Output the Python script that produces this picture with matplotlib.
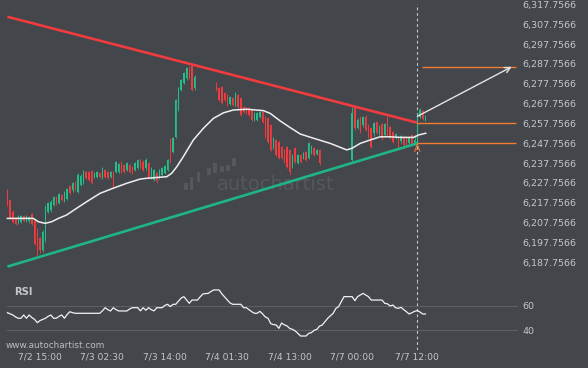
import numpy as np
import matplotlib
matplotlib.use('Agg')
import matplotlib.pyplot as plt
from matplotlib.ticker import FuncFormatter
from matplotlib.patches import Rectangle

nan = np.nan

# candles (30 min), index 0 = first bar; nan = no data
opens = [
    6224.2, 6219.2, 6213.1, 6210.1, 6207.6, 6208.1, 6211.1, 6208.6, 6208.6, 6212.1,
    6208.6, 6204.0, 6200.0, 6194.0, 6199.0, 6213.1, 6214.1, 6216.7, 6220.7, 6217.7,
    6221.7, 6218.7, 6219.7, 6226.2, 6224.2, 6228.2, 6223.2, 6226.7, 6227.7, 6233.3,
    6233.3, 6233.8, 6230.8, 6230.8, 6232.8, 6230.3, 6234.3, 6233.3, 6230.8, 6233.3,
    6233.3, 6233.3, 6238.3, 6236.8, 6234.3, 6236.8, 6235.8, 6234.3, 6235.3, 6239.3,
    6238.3, 6235.3, 6237.8, 6230.3, 6229.2, 6232.8, 6230.3, 6231.8, 6232.8, 6234.3,
    6249.4, 6243.4, 6250.9, 6264.5, 6274.6, 6278.1, 6280.6, 6284.7, 6286.7, 6275.6,
    nan, nan, nan, nan, nan, nan, nan, 6278.1, 6275.6, 6276.1,
    6273.1, 6272.1, 6267.5, 6270.6, 6267.0, 6272.1, 6270.6, 6266.0, 6265.5, 6265.5,
    6264.5, 6259.5, 6259.5, 6261.0, 6263.5, 6261.0, 6260.5, 6257.0, 6245.4, 6249.4,
    6248.4, 6245.9, 6244.4, 6245.9, 6244.4, 6235.8, 6245.4, 6237.8, 6241.9, 6240.3,
    6243.4, 6240.3, 6242.9, 6245.4, 6242.4, 6244.4, nan, nan, nan, nan,
    nan, nan, nan, nan, nan, nan, nan, 6239.3, 6265.5, 6255.4,
    6260.5, 6257.0, 6261.0, 6257.0, 6255.4, 6252.9, 6258.5, 6252.9, 6257.5, 6251.9,
    6261.0, 6255.9, 6253.4, 6250.4, 6250.9, 6248.9, 6250.9, 6250.9, 6247.9, 6251.9,
    6247.4, 6247.9, 6261.0, 6264.0, 6259.5,
]
closes = [
    6217.2, 6210.1, 6208.1, 6207.1, 6211.1, 6211.1, 6208.6, 6211.1, 6210.6, 6207.1,
    6197.0, 6193.0, 6194.0, 6203.0, 6215.6, 6217.7, 6218.2, 6220.7, 6217.2, 6222.2,
    6219.2, 6223.2, 6224.7, 6222.7, 6227.7, 6224.2, 6231.8, 6231.3, 6233.8, 6230.3,
    6229.2, 6227.7, 6232.8, 6233.3, 6230.8, 6235.3, 6230.8, 6230.3, 6233.3, 6225.7,
    6238.3, 6237.3, 6233.3, 6233.3, 6237.8, 6233.3, 6232.8, 6237.8, 6239.3, 6235.8,
    6234.3, 6239.3, 6230.3, 6235.3, 6234.3, 6228.7, 6234.3, 6235.3, 6236.3, 6239.3,
    6238.3, 6250.4, 6269.6, 6275.6, 6279.6, 6283.2, 6285.7, 6280.6, 6274.6, 6281.1,
    nan, nan, nan, nan, nan, nan, nan, 6274.6, 6269.6, 6268.0,
    6269.6, 6267.0, 6271.1, 6267.0, 6273.1, 6266.0, 6262.0, 6263.5, 6263.0, 6262.0,
    6259.5, 6263.0, 6263.0, 6263.5, 6258.5, 6250.9, 6248.4, 6244.4, 6250.4, 6241.9,
    6240.3, 6240.3, 6238.3, 6235.8, 6233.3, 6241.9, 6238.3, 6241.9, 6238.3, 6242.9,
    6239.3, 6247.9, 6245.9, 6241.9, 6244.4, 6237.8, nan, nan, nan, nan,
    nan, nan, nan, nan, nan, nan, nan, 6263.0, 6255.4, 6259.5,
    6253.4, 6261.0, 6254.4, 6250.9, 6245.9, 6258.0, 6252.9, 6256.4, 6250.4, 6257.5,
    6251.9, 6250.4, 6248.4, 6252.4, 6245.9, 6251.4, 6246.9, 6246.9, 6250.9, 6246.9,
    6249.4, 6262.0, 6264.5, 6260.0, 6261.5,
]
highs = [
    6224.7, 6219.7, 6214.1, 6210.6, 6211.6, 6211.6, 6211.6, 6211.6, 6211.1, 6212.6,
    6209.1, 6205.1, 6200.5, 6204.0, 6216.7, 6218.2, 6219.2, 6221.2, 6221.2, 6222.7,
    6222.2, 6223.7, 6225.2, 6226.7, 6228.2, 6228.7, 6232.8, 6232.3, 6234.3, 6233.8,
    6233.8, 6234.3, 6233.3, 6233.8, 6233.3, 6235.8, 6234.8, 6233.8, 6233.8, 6233.8,
    6238.8, 6237.8, 6238.8, 6237.3, 6238.3, 6237.3, 6236.3, 6238.3, 6239.8, 6239.8,
    6239.3, 6240.3, 6238.3, 6235.8, 6234.8, 6233.3, 6234.8, 6235.8, 6236.8, 6239.8,
    6250.4, 6250.9, 6270.1, 6276.1, 6280.1, 6283.7, 6286.2, 6286.7, 6288.2, 6282.2,
    nan, nan, nan, nan, nan, nan, nan, 6278.6, 6276.1, 6276.6,
    6273.6, 6272.6, 6271.6, 6271.1, 6273.6, 6272.6, 6271.1, 6266.5, 6266.0, 6266.0,
    6265.0, 6263.5, 6263.5, 6264.0, 6264.0, 6261.5, 6261.0, 6257.5, 6250.9, 6249.9,
    6248.9, 6246.4, 6244.9, 6246.4, 6244.9, 6242.4, 6245.9, 6242.4, 6242.4, 6243.4,
    6243.9, 6248.4, 6246.9, 6245.9, 6244.9, 6244.9, nan, nan, nan, nan,
    nan, nan, nan, nan, nan, nan, nan, 6266.0, 6266.0, 6260.5,
    6261.5, 6261.5, 6262.0, 6257.5, 6255.9, 6258.5, 6259.0, 6257.0, 6258.0, 6258.0,
    6261.5, 6256.4, 6253.9, 6252.9, 6251.4, 6251.9, 6251.4, 6251.4, 6251.4, 6252.4,
    6251.9, 6262.5, 6265.5, 6264.5, 6262.0,
]
lows = [
    6216.2, 6209.6, 6207.6, 6206.6, 6207.1, 6207.6, 6208.1, 6208.1, 6207.6, 6206.6,
    6196.5, 6190.4, 6192.5, 6193.0, 6198.0, 6212.6, 6213.1, 6216.2, 6216.7, 6217.2,
    6218.7, 6218.2, 6219.2, 6222.2, 6223.2, 6223.7, 6222.7, 6226.2, 6227.2, 6229.8,
    6228.7, 6227.2, 6230.3, 6230.3, 6230.3, 6229.8, 6230.3, 6229.8, 6230.3, 6225.2,
    6232.8, 6232.8, 6232.8, 6232.8, 6233.8, 6232.8, 6232.3, 6233.8, 6234.8, 6235.3,
    6233.8, 6234.3, 6229.8, 6229.8, 6228.7, 6227.7, 6229.8, 6231.3, 6232.3, 6233.8,
    6237.8, 6242.9, 6250.4, 6264.0, 6274.1, 6277.6, 6279.6, 6280.1, 6274.1, 6274.6,
    nan, nan, nan, nan, nan, nan, nan, 6274.1, 6269.1, 6267.5,
    6269.1, 6266.5, 6267.0, 6266.5, 6266.5, 6265.5, 6261.5, 6263.0, 6262.5, 6261.5,
    6259.0, 6259.0, 6259.0, 6260.5, 6258.0, 6250.4, 6247.9, 6243.9, 6244.9, 6241.4,
    6239.8, 6239.8, 6237.8, 6235.3, 6231.8, 6235.3, 6237.8, 6237.3, 6237.8, 6239.8,
    6238.8, 6239.8, 6242.4, 6241.4, 6241.9, 6236.8, nan, nan, nan, nan,
    nan, nan, nan, nan, nan, nan, nan, 6238.8, 6254.4, 6254.9,
    6252.9, 6255.9, 6253.9, 6250.4, 6245.4, 6251.4, 6252.4, 6251.9, 6249.4, 6251.4,
    6251.4, 6249.9, 6247.9, 6249.9, 6245.4, 6247.9, 6245.4, 6246.4, 6247.4, 6246.4,
    6246.9, 6247.4, 6260.5, 6259.5, 6259.0,
]

# moving average, read at these bar positions
ma_idx = [0, 9.5, 11.4, 13.9, 16.3, 18.8, 21.8, 25.5, 29.2, 34.1, 39.0, 44.0, 48.9,
          51.3, 58.7, 60.5, 62.4, 64.8, 68.5, 72.2, 75.9, 79.6, 83.2, 88.2, 94.3,
          96.8, 100.5, 104.1, 107.9, 112.7, 118.9, 125.0, 126.9, 130.0, 133.6,
          137.3, 141.0, 144.7, 149.6, 151.4, 154.1]
ma_val = [6209.9, 6209.9, 6208.2, 6207.4, 6208.2, 6209.9, 6211.6, 6215.0, 6218.3,
          6222.5, 6225.1, 6227.6, 6229.7, 6230.1, 6230.9, 6232.6, 6235.9, 6241.0,
          6249.4, 6255.3, 6260.3, 6263.1, 6264.5, 6264.9, 6264.2, 6262.8, 6259.0,
          6255.7, 6252.4, 6250.3, 6247.7, 6244.4, 6245.2, 6247.7, 6249.4, 6251.0,
          6251.0, 6250.7, 6250.7, 6251.9, 6252.8]

rsi = [
    54.5, 53.5, 52.6, 51.0, 49.9, 49.9, 52.6, 49.9, 52.6, 50.5,
    49.0, 46.3, 48.0, 49.0, 49.9, 51.5, 52.6, 49.9, 49.9, 51.5,
    52.6, 49.9, 53.0, 55.3, 54.5, 54.0, 54.0, 54.0, 54.0, 54.0,
    54.0, 54.0, 54.0, 54.0, 54.0, 56.0, 58.6, 57.0, 55.9, 58.6,
    57.0, 55.9, 55.9, 55.9, 55.9, 57.5, 58.6, 58.6, 58.6, 56.0,
    58.6, 56.5, 58.6, 57.0, 56.0, 58.6, 58.6, 58.6, 60.5, 61.4,
    59.5, 61.4, 61.4, 64.0, 66.5, 67.7, 65.0, 62.2, 64.9, 64.9,
    64.9, 67.5, 69.9, 70.2, 70.4, 72.0, 73.2, 73.2, 73.2, 70.0,
    67.5, 65.0, 62.5, 61.4, 61.4, 61.4, 61.4, 58.6, 58.6, 57.0,
    55.3, 54.0, 54.0, 55.6, 53.5, 51.0, 49.9, 45.5, 44.7, 44.4,
    41.6, 46.0, 44.5, 43.6, 41.5, 40.8, 39.5, 37.5, 35.3, 35.3,
    35.3, 37.5, 38.1, 40.0, 40.8, 43.5, 44.4, 47.1, 49.9, 52.0,
    54.0, 58.0, 59.5, 63.6, 67.7, 67.7, 67.7, 67.7, 64.4, 67.7,
    69.0, 70.4, 69.0, 67.7, 64.9, 64.9, 64.9, 64.9, 64.9, 62.2,
    61.8, 60.0, 60.8, 58.5, 58.1, 58.9, 57.0, 55.3, 53.4, 54.5,
    55.6, 56.2, 55.0, 53.4, 53.4,
]

# triangle lines (start bar, end bar) and levels
resist_x, resist_y = [0, 151], [6311.5, 6258.1]
support_x, support_y = [0, 151], [6185.6, 6247.7]
breakout_bar = 151
breakout_level = 6258.1
support_level = 6247.7
target_level = 6286.3
arrow_start, arrow_end = (151, 6261.3), (185.8, 6286.3)

tick_idx = [12, 35, 58, 81, 104, 127, 151]
tick_lbl = ['7/2 15:00', '7/3 02:30', '7/3 14:00', '7/4 01:30', '7/4 13:00',
            '7/7 00:00', '7/7 12:00']
price_ticks = [6187.7566 + 10 * k for k in range(14)]

bg = '#43464b'
txt = '#c3c6ca'
up = '#22bf8a'
down = '#f03c3f'
orange = '#f57b32'

fig = plt.figure(figsize=(5.88, 3.68), dpi=100, facecolor=bg)
ax = fig.add_axes([0, 0.2337, 0.881, 0.7663], facecolor=bg)
rax = fig.add_axes([0, 0.0489, 0.881, 0.1848], facecolor=bg)

o = np.array(opens); c = np.array(closes)
h = np.array(highs); l = np.array(lows)
idx = np.arange(len(o))
cols = np.where(c >= o, up, down)
ax.vlines(idx, l, h, colors=cols, lw=0.6, zorder=2)
body = np.maximum(np.abs(c - o), 0.5)
ax.bar(idx, body, bottom=np.fmin(o, c), width=0.5, color=cols, lw=0, zorder=2)

ax.plot(ma_idx, ma_val, color='#eeeeee', lw=1.1, zorder=3)
ax.plot(resist_x, resist_y, color='#f03c3f', lw=1.9, zorder=4, solid_capstyle='butt')
ax.plot(support_x, support_y, color='#1fb584', lw=1.9, zorder=4, solid_capstyle='butt')

ax.hlines([breakout_level, support_level], breakout_bar, 187.3, color=orange, lw=1.0, zorder=4)
ax.hlines(target_level, 152.9, 187.3, color=orange, lw=1.0, zorder=4)
ax.annotate('', xy=arrow_end, xytext=arrow_start,
            arrowprops=dict(arrowstyle='->', color='#e4e4e4', lw=1.0,
                            shrinkA=0, shrinkB=0, mutation_scale=10), zorder=5)
ax.text(breakout_bar, support_level - 2.6, 'A', color=orange, fontsize=7,
        ha='center', va='center', zorder=5)

ax.axvline(breakout_bar, ymax=1 - 4 / 282, color='#c8c8c8', lw=0.8,
           ls=(0, (2.5, 2.5)), zorder=1)
rax.axvline(breakout_bar, color='#c8c8c8', lw=0.8, ls=(0, (2.5, 2.5)), zorder=1)

# watermark
ax.text(217 / 518, 1 - 190 / 282, 'autochartist', transform=ax.transAxes,
        color='#54575c', fontsize=14, va='baseline', ha='left', zorder=0)
logo = [(184, 183, 188, 190), (190, 177, 193, 190), (197, 172, 200, 182),
        (207, 168, 211, 175), (213, 163, 217, 173), (220, 166, 224, 172),
        (226, 165, 230, 171), (232, 158, 236, 166)]
for x0, y0, x1, y1 in logo:
    ax.add_patch(Rectangle((x0 / 518, 1 - y1 / 282), (x1 - x0) / 518, (y1 - y0) / 282,
                           transform=ax.transAxes, color='#54575c', lw=0, zorder=0))

ax.set_xlim(-2.73, 188.1)
ax.set_ylim(6177.84, 6319.94)
ax.set_xticks([])
ax.yaxis.tick_right()
ax.set_yticks(price_ticks)
ax.yaxis.set_major_formatter(FuncFormatter(lambda v, p: f'{v:,.4f}'))
ax.tick_params(axis='y', length=0, pad=2.9, labelsize=6.8, colors=txt)
for s in ax.spines.values():
    s.set_visible(False)

# RSI panel
rax.plot(idx, rsi, color='#f2f2f2', lw=0.9, zorder=3)
for lvl in (40, 60):
    rax.axhline(lvl, xmin=7 / 518, color='#5c6065', lw=0.8, zorder=1)
rax.set_xlim(-2.73, 188.1)
rax.set_ylim(23.79, 79.75)
rax.yaxis.tick_right()
rax.set_yticks([40, 60])
rax.tick_params(axis='y', length=0, pad=2.9, labelsize=6.8, colors=txt)
rax.set_xticks(tick_idx)
rax.set_xticklabels(tick_lbl)
rax.tick_params(axis='x', length=0, pad=1.8, labelsize=6.6, colors=txt)
for s in rax.spines.values():
    s.set_visible(False)

fig.text(14 / 588, 1 - 291.7 / 368, 'RSI', color=txt, fontsize=7.2,
         fontweight='bold', va='center', ha='left')
fig.text(6 / 588, 1 - 345 / 368, 'www.autochartist.com', color='#b9bcc0',
         fontsize=6.4, va='center', ha='left')

fig.savefig('out.png', dpi=100, facecolor=bg)
